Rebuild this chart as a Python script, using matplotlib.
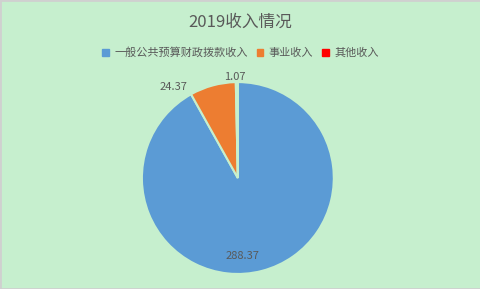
import matplotlib.pyplot as plt
from matplotlib.patches import Rectangle

plt.rcParams['font.family'] = ['Noto Sans CJK SC', 'DejaVu Sans']

categories = ['一般公共预算财政拨款收入', '事业收入', '其他收入']
values = [288.37, 24.37, 1.07]
colors = ['#5B9BD5', '#ED7D31', '#FF0000']
bg = '#C6EFCE'
txt = '#595959'

fig = plt.figure(figsize=(4.81, 2.89), dpi=100, facecolor=bg)
fig.patches.append(Rectangle((0, 0), 1, 1, transform=fig.transFigure,
                             fill=False, edgecolor='#D0D0D0', lw=2))

ax = fig.add_axes([0.295, 0.052, 0.399, 0.664])
ax.set_facecolor(bg)
wedges, texts = ax.pie(values, colors=colors, startangle=90, counterclock=False,
                       labels=[f'{v:.2f}' for v in values],
                       wedgeprops=dict(edgecolor=bg, linewidth=1.5),
                       textprops=dict(color=txt, fontsize=8))
ax.set_xlim(-1, 1)
ax.set_ylim(-1, 1)
ax.set_aspect('equal')

# data label placement (Excel "best fit")
texts[0].set_position((0.05, -0.81))
texts[1].set_position((-0.67, 0.95))
texts[2].set_position((-0.03, 1.05))
for t in texts:
    t.set_ha('center')
    t.set_va('center')

fig.text(0.5, 0.923, '2019收入情况', ha='center', va='center',
         fontsize=12, color=txt)

handles = [plt.Rectangle((0, 0), 1, 1, color=c) for c in colors]
fig.legend(handles, categories, loc='center', bbox_to_anchor=(0.5, 0.818),
           ncol=3, frameon=False, fontsize=8, labelcolor=txt,
           handlelength=0.6, handleheight=0.6, handletextpad=0.5,
           columnspacing=0.8)

fig.savefig('out.png', dpi=100, facecolor=bg)
